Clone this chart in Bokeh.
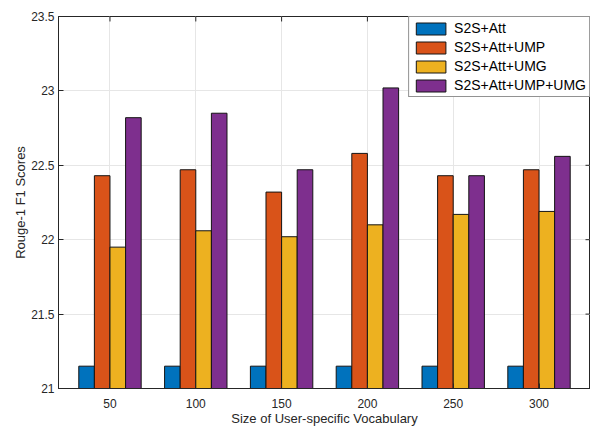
from bokeh.plotting import figure
from bokeh.models import Range1d, FixedTicker, Legend, LegendItem, ColumnDataSource
from bokeh.embed import file_html
from bokeh.resources import INLINE

vocab = [50, 100, 150, 200, 250, 300]
s2s_att = [21.15, 21.15, 21.15, 21.15, 21.15, 21.15]
s2s_att_ump = [22.43, 22.47, 22.32, 22.58, 22.43, 22.47]
s2s_att_umg = [21.95, 22.06, 22.02, 22.10, 22.17, 22.19]
s2s_att_ump_umg = [22.82, 22.85, 22.47, 23.02, 22.43, 22.56]
series_names = ["S2S+Att", "S2S+Att+UMP", "S2S+Att+UMG", "S2S+Att+UMP+UMG"]
colors = ["#0072BD", "#D95319", "#EDB120", "#7E2F8E"]
y_ticks = [21, 21.5, 22, 22.5, 23, 23.5]
y_tick_labels = ["21", "21.5", "22", "22.5", "23", "23.5"]

FONT = "Liberation Sans"
DARK = "#262626"

X0, X1 = 20, 330
Y0, Y1 = 21, 23.5
W, H = 590, 428
BL, BR, BT, BB = 58, 0, 16, 38
FW, FH = W - BL - BR, H - BT - BB

p = figure(width=W, height=H,
           output_backend="svg", toolbar_location=None,
           x_range=Range1d(X0, X1), y_range=Range1d(Y0, Y1),
           min_border_left=BL, min_border_right=BR, min_border_top=BT, min_border_bottom=BB)
p.background_fill_color = "white"
p.border_fill_color = "white"
p.outline_line_color = DARK
p.outline_line_width = 1

spacing = 50
group_w = spacing * 4 / 5.5
bar_w = group_w / 4
all_series = [s2s_att, s2s_att_ump, s2s_att_umg, s2s_att_ump_umg]
items = []
for i, (vals, name, col) in enumerate(zip(all_series, series_names, colors)):
    off = (i - 1.5) * bar_w
    src = ColumnDataSource(dict(x=[v + off for v in vocab], top=vals))
    r = p.vbar(x="x", top="top", bottom=Y0, width=bar_w, source=src,
               fill_color=col, line_color="#141414", line_width=1)
    items.append(LegendItem(label=name, renderers=[r]))

# mirrored inward ticks on top and right (box on)
tick_px = 5
dy = tick_px * (Y1 - Y0) / FH
dx = tick_px * (X1 - X0) / FW
p.segment(x0=vocab, x1=vocab, y0=[Y1] * len(vocab), y1=[Y1 - dy] * len(vocab),
          line_color=DARK, line_width=1)
p.segment(x0=[X1] * len(y_ticks), x1=[X1 - dx] * len(y_ticks), y0=y_ticks, y1=y_ticks,
          line_color=DARK, line_width=1)

for ax in [p.xaxis[0], p.yaxis[0]]:
    ax.axis_line_color = DARK
    ax.major_tick_line_color = DARK
    ax.major_tick_in = 5
    ax.major_tick_out = 0
    ax.minor_tick_line_color = None
    ax.major_label_text_font = FONT
    ax.major_label_text_font_size = "12px"
    ax.major_label_text_color = DARK
    ax.axis_label_text_font = FONT
    ax.axis_label_text_font_size = "13px"
    ax.axis_label_text_font_style = "normal"
    ax.axis_label_text_color = DARK

p.xaxis[0].ticker = FixedTicker(ticks=vocab)
p.xaxis[0].axis_label = "Size of User-specific Vocabulary"
p.xaxis[0].major_label_standoff = 10
p.xaxis[0].axis_label_standoff = 0
p.yaxis[0].ticker = FixedTicker(ticks=y_ticks)
p.yaxis[0].major_label_overrides = {t: l for t, l in zip(y_ticks, y_tick_labels)}
p.yaxis[0].axis_label = "Rouge-1 F1 Scores"
p.yaxis[0].major_label_standoff = 4
p.yaxis[0].axis_label_standoff = 0

p.xgrid.ticker = FixedTicker(ticks=vocab)
p.ygrid.ticker = FixedTicker(ticks=y_ticks)
p.grid.grid_line_color = "#e6e6e6"
p.grid.grid_line_width = 1

legend = Legend(items=items, location="top_right", margin=0, padding=3, spacing=3,
                glyph_width=37, glyph_height=15, label_standoff=5,
                label_text_font=FONT, label_text_font_size="14px", label_text_color="black",
                border_line_color=DARK, border_line_width=1, background_fill_color="white",
                background_fill_alpha=1.0, label_height=15)
p.add_layout(legend, "center")

open("out.html", "w").write(file_html(p, INLINE))
